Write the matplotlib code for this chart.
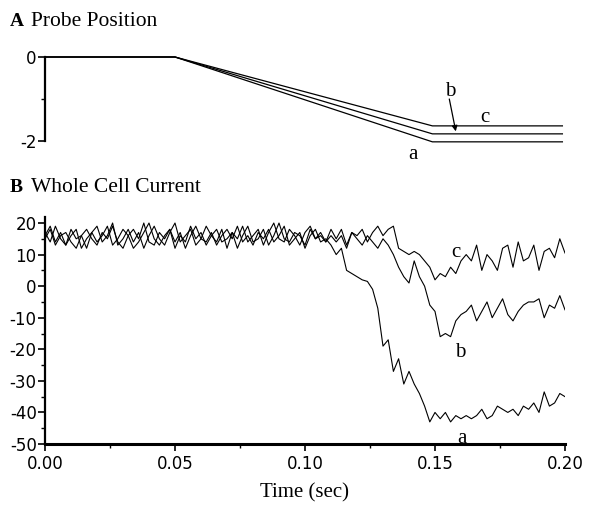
import numpy as np
import matplotlib
matplotlib.use("Agg")
import matplotlib.pyplot as plt
from matplotlib.ticker import MultipleLocator

# ---- Panel A: probe position ----
pos_t = [0.0, 0.05, 0.149, 0.199]
pos_a = [0.0, 0.0, -2.02, -2.02]
pos_b = [0.0, 0.0, -1.83, -1.83]
pos_c = [0.0, 0.0, -1.64, -1.64]

# ---- Panel B: whole cell current (sampled every 2 ms) ----
cur_t = [round(0.002 * i, 3) for i in range(101)]
cur_a = [17, 14, 19, 15, 13, 16, 18, 12, 15, 17,
         14, 16, 19, 13, 15, 18, 16, 12, 14, 17,
         20, 15, 13, 16, 18, 14, 17, 12, 16, 19,
         15, 14, 17, 13, 16, 18, 15, 19, 14, 16,
         13, 17, 15, 18, 14, 16, 19, 13, 15, 17,
         12, 16, 18, 14, 15, 13,
         10, 12, 5, 4, 3, 2, 1.5, -1, -7, -19,
         -17, -27, -23, -31, -27, -31, -34, -38, -43, -40,
         -42, -40, -43, -41, -42,
         -41, -42, -41, -39, -42, -41, -38, -39, -40, -39,
         -41, -38, -39, -37, -40, -33.5, -38, -37, -34, -35]
cur_b = [15, 18, 13, 16, 17, 14, 12, 16, 18, 15,
         13, 17, 15, 19, 14, 12, 16, 18, 15, 20,
         14, 13, 17, 15, 18, 12, 16, 14, 19, 15,
         17, 13, 16, 18, 14, 15, 17, 12, 16, 19,
         14, 15, 18, 13, 16, 20, 15, 14, 17, 16,
         13, 18, 15, 17, 14, 16,
         14, 16, 12, 17, 15, 13, 16, 14, 12, 15,
         13, 10, 6, 3, 1, 8, 3, 0, -6, -8,
         -16, -15, -16, -11, -9, -8, -6, -11, -8, -5,
         -10, -7, -4, -9, -11, -8, -6, -5, -5, -4,
         -10, -6, -7, -3, -7.5]
cur_c = [16, 19, 14, 17, 13, 18, 15, 16, 12, 17,
         19, 14, 16, 20, 13, 15, 18, 14, 17, 12,
         16, 19, 15, 13, 17, 20, 14, 16, 18, 13,
         15, 19, 16, 14, 18, 12, 17, 15, 19, 14,
         16, 18, 13, 17, 20, 15, 14, 18, 16, 13,
         17, 19, 15, 16, 14, 18,
         15, 18, 13, 17, 16, 18, 14, 17, 19, 16,
         18, 19, 12, 11, 10, 11, 10, 8, 6, 2,
         4, 3, 6, 4, 8, 10, 8, 13, 5, 10,
         8, 5, 12, 13, 6, 14, 8, 9, 13, 5,
         11, 12, 9, 15, 10.5]

x_ticks = [0.0, 0.05, 0.10, 0.15, 0.20]
x_ticklabels = ["0.00", "0.05", "0.10", "0.15", "0.20"]

SERIF = ["Liberation Serif", "DejaVu Serif"]
SANS = ["DejaVu Sans"]

W, H = 591, 505
fig = plt.figure(figsize=(W / 100, H / 100), dpi=100)

def rect(x0, y0, x1, y1):
    return [x0 / W, 1 - y1 / H, (x1 - x0) / W, (y1 - y0) / H]

# Panel A
axA = fig.add_axes(rect(45, 57, 565, 141))
for y in (pos_a, pos_b, pos_c):
    axA.plot(pos_t, y, color="black", lw=0.9, clip_on=False)
axA.set_xlim(0, 0.2)
axA.set_ylim(-2, 0)
for s in ("top", "right", "bottom"):
    axA.spines[s].set_visible(False)
axA.spines["left"].set_linewidth(1.6)
axA.set_xticks([])
axA.set_yticks([0, -2])
axA.set_yticklabels(["0", "-2"], fontfamily=SANS, fontsize=12)
axA.yaxis.set_minor_locator(MultipleLocator(1))
axA.tick_params(axis="y", which="major", direction="out", length=5, width=1.2, pad=1)
axA.tick_params(axis="y", which="minor", direction="out", length=3, width=1.0)
axA.text(0.1415, -2.33, "a", fontfamily=SERIF, fontsize=15, ha="center", va="center")
axA.text(0.156, -0.83, "b", fontfamily=SERIF, fontsize=15, ha="center", va="center")
axA.text(0.169, -1.45, "c", fontfamily=SERIF, fontsize=15, ha="center", va="center")
axA.annotate("", xy=(0.158, -1.77), xytext=(0.1555, -1.0),
             arrowprops=dict(arrowstyle="-|>", color="black", lw=0.9,
                             mutation_scale=8, shrinkA=0, shrinkB=0))

# Panel B
axB = fig.add_axes(rect(45, 216.7, 565, 444))
for y in (cur_a, cur_b, cur_c):
    axB.plot(cur_t, y, color="black", lw=0.8)
axB.set_xlim(0, 0.2)
axB.set_ylim(-50, 22)
for s in ("top", "right"):
    axB.spines[s].set_visible(False)
axB.spines["left"].set_linewidth(1.6)
axB.spines["bottom"].set_linewidth(2.2)
axB.set_yticks([20, 10, 0, -10, -20, -30, -40, -50])
axB.set_yticklabels(["20", "10", "0", "-10", "-20", "-30", "-40", "-50"],
                    fontfamily=SANS, fontsize=12)
axB.yaxis.set_minor_locator(MultipleLocator(5))
axB.set_xticks(x_ticks)
axB.set_xticklabels(x_ticklabels, fontfamily=SANS, fontsize=12)
axB.xaxis.set_minor_locator(MultipleLocator(0.025))
axB.tick_params(axis="both", which="major", direction="out", length=5, width=1.2, pad=3)
axB.tick_params(axis="both", which="minor", direction="out", length=3, width=1.0)
axB.tick_params(axis="y", which="major", pad=1)
axB.set_xlabel("Time (sec)", fontfamily=SERIF, fontsize=15, labelpad=7)
axB.text(0.158, 10.8, "c", fontfamily=SERIF, fontsize=15, ha="center", va="center")
axB.text(0.1596, -20.9, "b", fontfamily=SERIF, fontsize=15, ha="center", va="center")
axB.text(0.1604, -48.1, "a", fontfamily=SERIF, fontsize=15, ha="center", va="center")

# Panel titles
fig.text(10 / W, 1 - 22 / H, "A", fontfamily=SERIF, fontsize=14, fontweight="bold",
         ha="left", va="center")
fig.text(31 / W, 1 - 22 / H, "Probe Position", fontfamily=SERIF, fontsize=15.5,
         ha="left", va="center")
fig.text(10 / W, 1 - 188 / H, "B", fontfamily=SERIF, fontsize=14, fontweight="bold",
         ha="left", va="center")
fig.text(31 / W, 1 - 188 / H, "Whole Cell Current", fontfamily=SERIF, fontsize=15.5,
         ha="left", va="center")

fig.savefig("out.png", dpi=100)
